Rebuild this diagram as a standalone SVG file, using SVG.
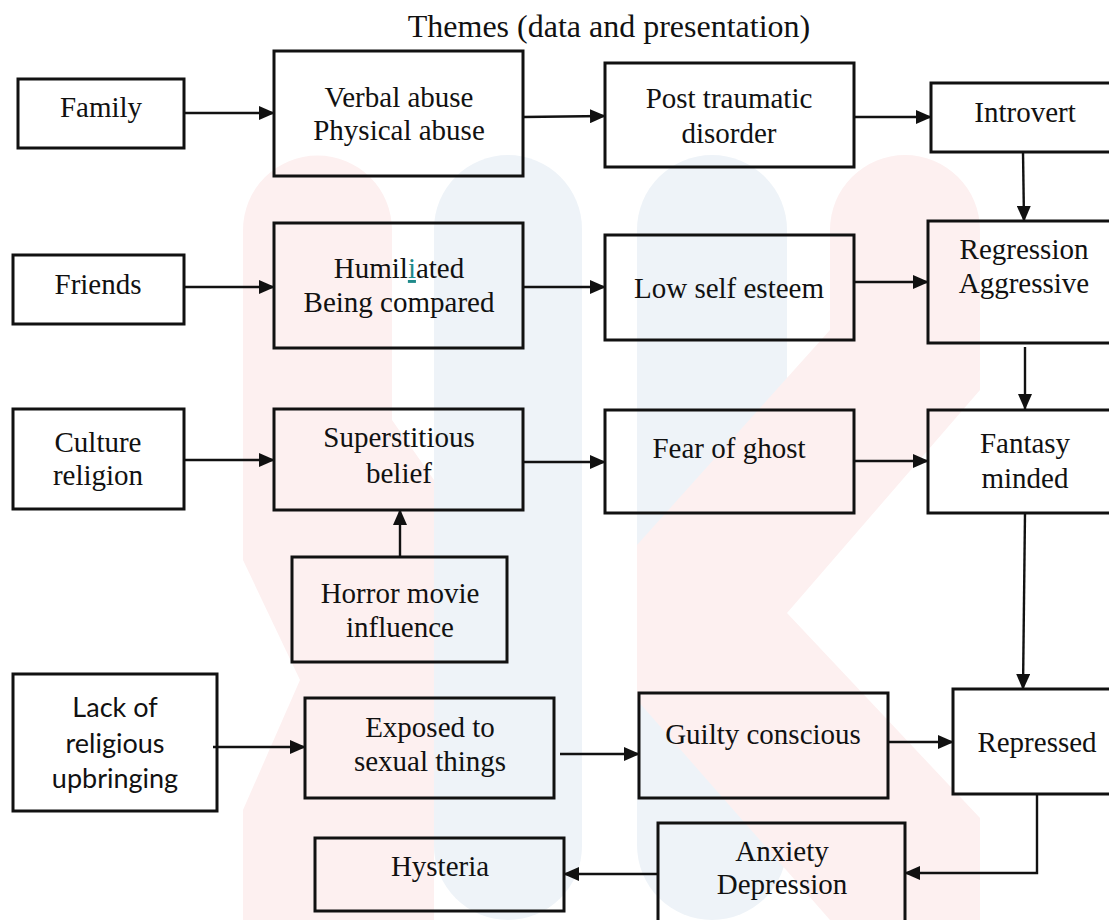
<svg xmlns="http://www.w3.org/2000/svg" width="1109" height="920" viewBox="0 0 1109 920">
<defs>
<style>
.box{fill:none;stroke:#111;stroke-width:3}
.t{font-family:"Liberation Serif","Times New Roman",serif;font-size:29px;fill:#111;text-anchor:middle}
.s{font-family:Lato,"Open Sans",sans-serif;font-size:27px;fill:#111;text-anchor:middle}
.ttl{font-family:"Liberation Serif","Times New Roman",serif;font-size:32px;fill:#111;text-anchor:middle}
.c{fill:none;stroke:#111;stroke-width:2.4;marker-end:url(#ah)}
.pk{fill:#fdf0f0}
.bl{fill:#eef3f8}
</style>
<marker id="ah" markerWidth="16" markerHeight="14" refX="15" refY="7" orient="auto" markerUnits="userSpaceOnUse">
<path d="M0,0 L16,7 L0,14 Z" fill="#111"/>
</marker>
</defs>
<rect width="1109" height="920" fill="#ffffff"/>
<g id="watermark">
<path class="pk" d="M243,230 A74.5,74.5 0 0 1 392,230 L392,420 L434,480 L434,920 L243,920 L243,810 L300,680 L243,560 Z"/>
<rect class="bl" x="434" y="155" width="148" height="765" rx="74" ry="74"/>
<rect class="bl" x="637" y="155" width="150" height="765" rx="75" ry="75"/>
<path class="pk" d="M830,230 A75,75 0 0 1 980,230 L980,390 L787,613 L980,818 L980,920 L830,920 L637,700 L637,545 L830,330 Z"/>
</g>
<text class="ttl" x="609" y="37">Themes (data and presentation)</text>
<g id="connectors">
<line class="c" x1="184" y1="113" x2="274" y2="113"/>
<line class="c" x1="523" y1="117" x2="605" y2="116"/>
<line class="c" x1="854" y1="117" x2="931" y2="117"/>
<line class="c" x1="1023" y1="152" x2="1024" y2="221"/>
<line class="c" x1="184" y1="287" x2="274" y2="287"/>
<line class="c" x1="523" y1="287" x2="605" y2="287"/>
<line class="c" x1="854" y1="282" x2="928" y2="282"/>
<line class="c" x1="1025" y1="347" x2="1025" y2="409"/>
<line class="c" x1="184" y1="460" x2="274" y2="460"/>
<line class="c" x1="523" y1="462" x2="605" y2="462"/>
<line class="c" x1="854" y1="461" x2="928" y2="461"/>
<line class="c" x1="400" y1="557" x2="400" y2="510"/>
<line class="c" x1="1025" y1="513" x2="1023" y2="689"/>
<line class="c" x1="213" y1="747" x2="305" y2="747"/>
<line class="c" x1="560" y1="754" x2="639" y2="754"/>
<line class="c" x1="888" y1="742" x2="953" y2="742"/>
<polyline class="c" points="1037,794 1037,873 905,873"/>
<line class="c" x1="658" y1="874" x2="564" y2="874"/>
</g>
<g id="family"><rect class="box" x="18" y="79" width="166" height="69"/><text class="t" x="101" y="117">Family</text></g>
<g id="verbal"><rect class="box" x="274" y="51" width="249" height="125"/><text class="t" x="399" y="107">Verbal abuse</text><text class="t" x="399" y="140">Physical abuse</text></g>
<g id="post"><rect class="box" x="605" y="63" width="249" height="104"/><text class="t" x="729" y="108">Post traumatic</text><text class="t" x="729" y="143">disorder</text></g>
<g id="introvert"><rect class="box" x="931" y="83" width="190" height="69"/><text class="t" x="1025" y="122">Introvert</text></g>
<g id="friends"><rect class="box" x="13" y="255" width="171" height="69"/><text class="t" x="98" y="294">Friends</text></g>
<g id="humiliated"><rect class="box" x="274" y="223" width="249" height="125"/><text class="t" x="399" y="278">Humil<tspan fill="#1f8a8a" text-decoration="underline">i</tspan>ated</text><text class="t" x="399" y="312">Being compared</text></g>
<g id="lowself"><rect class="box" x="605" y="235" width="249" height="105"/><text class="t" x="729" y="298">Low self esteem</text></g>
<g id="regression"><rect class="box" x="928" y="221" width="193" height="122"/><text class="t" x="1024" y="259">Regression</text><text class="t" x="1024" y="293">Aggressive</text></g>
<g id="culture"><rect class="box" x="13" y="409" width="171" height="100"/><text class="t" x="98" y="452">Culture</text><text class="t" x="98" y="485">religion</text></g>
<g id="superstitious"><rect class="box" x="274" y="409" width="249" height="101"/><text class="t" x="399" y="447">Superstitious</text><text class="t" x="399" y="483">belief</text></g>
<g id="fear"><rect class="box" x="605" y="410" width="249" height="103"/><text class="t" x="729" y="458">Fear of ghost</text></g>
<g id="fantasy"><rect class="box" x="928" y="410" width="193" height="103"/><text class="t" x="1025" y="453">Fantasy</text><text class="t" x="1025" y="488">minded</text></g>
<g id="horror"><rect class="box" x="292" y="557" width="215" height="105"/><text class="t" x="400" y="603">Horror movie</text><text class="t" x="400" y="637">influence</text></g>
<g id="lack"><rect class="box" x="13" y="674" width="204" height="137"/><text class="s" x="115" y="717">Lack of</text><text class="s" x="115" y="753">religious</text><text class="s" x="115" y="788">upbringing</text></g>
<g id="exposed"><rect class="box" x="305" y="698" width="249" height="100"/><text class="t" x="430" y="737">Exposed to</text><text class="t" x="430" y="771">sexual things</text></g>
<g id="guilty"><rect class="box" x="639" y="693" width="249" height="105"/><text class="t" x="763" y="744">Guilty conscious</text></g>
<g id="repressed"><rect class="box" x="953" y="689" width="168" height="105"/><text class="t" x="1037" y="752">Repressed</text></g>
<g id="anxiety"><rect class="box" x="658" y="823" width="247" height="110"/><text class="t" x="782" y="861">Anxiety</text><text class="t" x="782" y="894">Depression</text></g>
<g id="hysteria"><rect class="box" x="315" y="838" width="249" height="73"/><text class="t" x="440" y="876">Hysteria</text></g>
</svg>
